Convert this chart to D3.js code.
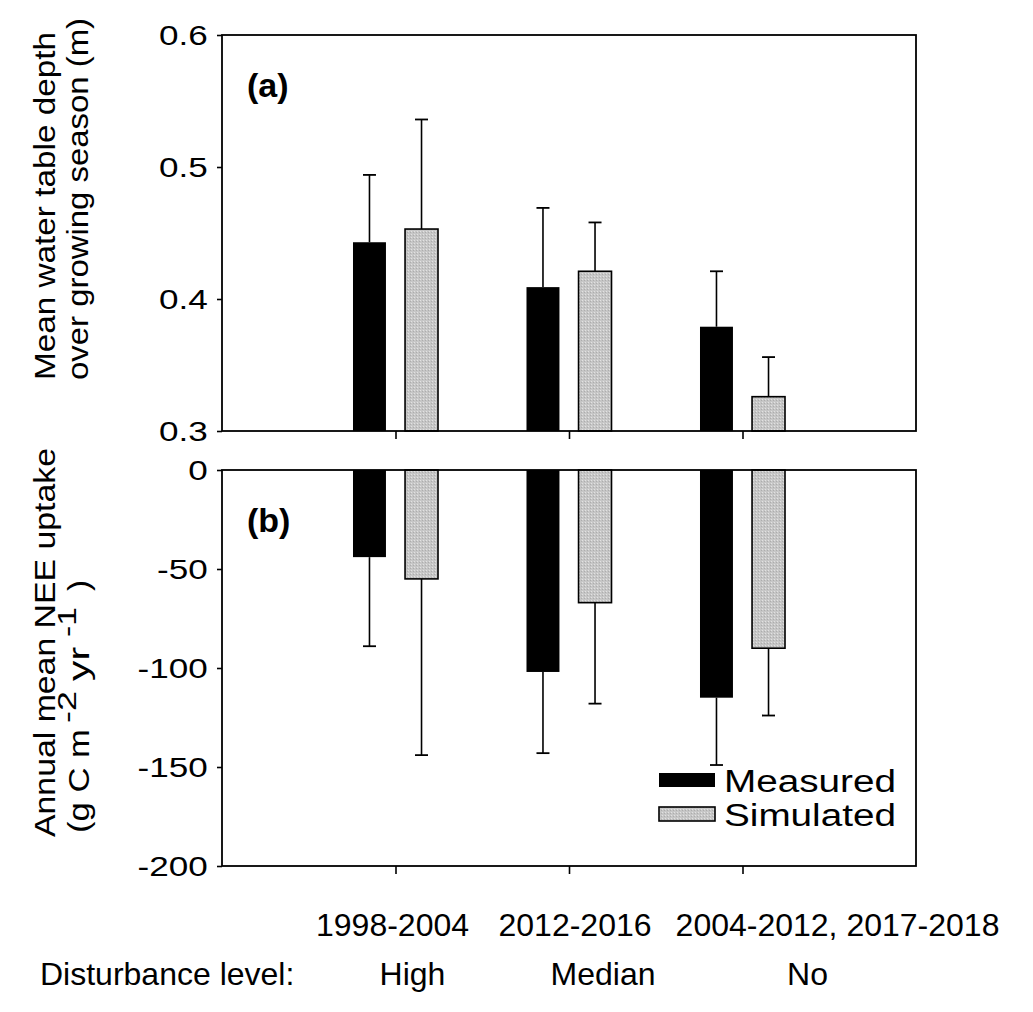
<!DOCTYPE html>
<html>
<head>
<meta charset="utf-8">
<script src="https://cdnjs.cloudflare.com/ajax/libs/d3/7.8.5/d3.min.js"></script>
<style>
body { margin: 0; background: #fff; }
text { font-family: Arial, "Liberation Sans", sans-serif; fill: #000; }
</style>
</head>
<body>
<div id="chart"></div>
<script>
// categories
const periods = ["1998-2004", "2012-2016", "2004-2012, 2017-2018"];
const levels = ["High", "Median", "No"];
const seriesNames = ["Measured", "Simulated"];

// (a) mean water table depth (m)
const wtdMeasured = [0.443, 0.409, 0.379];
const wtdMeasuredErr = [0.051, 0.060, 0.042];
const wtdSimulated = [0.453, 0.421, 0.326];
const wtdSimulatedErr = [0.083, 0.037, 0.030];
const wtdTicks = [0.3, 0.4, 0.5, 0.6];

// (b) annual mean NEE uptake (g C m-2 yr-1)
const neeMeasured = [-44, -102, -115];
const neeMeasuredErr = [45, 41, 34];
const neeSimulated = [-55, -67, -90];
const neeSimulatedErr = [89, 51, 34];
const neeTicks = [0, -50, -100, -150, -200];

const W = 1033, H = 1012;
const left = 222, right = 916;

const svg = d3.select("#chart").append("svg")
    .attr("width", W)
    .attr("height", H);

// stipple pattern for the simulated bars
const defs = svg.append("defs");
const pat = defs.append("pattern")
    .attr("id", "stipple")
    .attr("width", 3).attr("height", 3)
    .attr("patternUnits", "userSpaceOnUse");
pat.append("rect").attr("width", 3).attr("height", 3).attr("fill", "#c6c6c6");
pat.append("rect").attr("width", 1).attr("height", 1).attr("fill", "#e2e2e2");
pat.append("rect").attr("x", 2).attr("y", 1).attr("width", 1).attr("height", 1).attr("fill", "#adadad");

const x = d3.scaleLinear().domain([0, 4]).range([left, right]);
const barW = x(0.19) - x(0);
const offsets = [-0.15, 0.15];

const drawPanel = (cfg) => {
    const { y, base, series, errs, ticks, fmt, tag } = cfg;
    const [y0, y1] = y.range(); // bottom, top
    const g = svg.append("g");

    // bars
    series.forEach((vals, s) => {
        g.selectAll(null)
            .data(vals)
            .enter().append("rect")
            .attr("x", (d, i) => x(i + 1 + offsets[s]) - barW / 2)
            .attr("y", d => y(Math.max(d, base)))
            .attr("width", barW)
            .attr("height", d => Math.abs(y(d) - y(base)))
            .attr("fill", s === 0 ? "#000" : "url(#stipple)")
            .attr("stroke", "#000")
            .attr("stroke-width", s === 0 ? 0 : 1.6);
    });

    // one-sided error bars, pointing away from the baseline
    series.forEach((vals, s) => {
        vals.forEach((d, i) => {
            const cx = x(i + 1 + offsets[s]);
            const end = d + Math.sign(d - base) * errs[s][i];
            g.append("line")
                .attr("x1", cx).attr("x2", cx)
                .attr("y1", y(d)).attr("y2", y(end))
                .attr("stroke", "#000").attr("stroke-width", 1.6);
            g.append("line")
                .attr("x1", cx - 6.5).attr("x2", cx + 6.5)
                .attr("y1", y(end)).attr("y2", y(end))
                .attr("stroke", "#000").attr("stroke-width", 1.8);
        });
    });

    // y axis (labels in the original are drawn wide)
    const ya = g.append("g")
        .attr("transform", `translate(${left},0)`)
        .call(d3.axisLeft(y).tickValues(ticks).tickFormat(fmt).tickSize(5).tickSizeOuter(0).tickPadding(6));
    ya.select(".domain").remove();
    ya.selectAll("line").attr("stroke", "#000").attr("stroke-width", 1.6);
    ya.selectAll("text")
        .attr("font-size", 27)
        .attr("font-family", "Arial, 'Liberation Sans', sans-serif")
        .attr("dy", "0.36em")
        .attr("transform", "scale(1.3,1)");

    // x ticks
    const xa = g.append("g")
        .attr("transform", `translate(0,${y0})`)
        .call(d3.axisBottom(x).tickValues([1, 2, 3]).tickFormat("").tickSize(8).tickSizeOuter(0));
    xa.select(".domain").remove();
    xa.selectAll("line").attr("stroke", "#000").attr("stroke-width", 1.6);

    // frame
    g.append("rect")
        .attr("x", left).attr("y", y1)
        .attr("width", right - left).attr("height", y0 - y1)
        .attr("fill", "none")
        .attr("stroke", "#000")
        .attr("stroke-width", 1.8);

    // panel tag
    g.append("text")
        .attr("x", left + 25).attr("y", y1 + 62)
        .attr("font-size", 34)
        .attr("font-weight", "bold")
        .text(tag);
};

const yTop = d3.scaleLinear().domain([0.3, 0.6]).range([431, 35]);
const yBot = d3.scaleLinear().domain([-200, 0]).range([866, 470]);

drawPanel({
    y: yTop, base: 0.3,
    series: [wtdMeasured, wtdSimulated],
    errs: [wtdMeasuredErr, wtdSimulatedErr],
    ticks: wtdTicks, fmt: d3.format(".1f"), tag: "(a)"
});

drawPanel({
    y: yBot, base: 0,
    series: [neeMeasured, neeSimulated],
    errs: [neeMeasuredErr, neeSimulatedErr],
    ticks: neeTicks, fmt: d => d, tag: "(b)"
});

// y axis titles
const vtext = (tx, ty, len, str) => svg.append("text")
    .attr("transform", `translate(${tx},${ty}) rotate(-90)`)
    .attr("font-size", 29)
    .attr("textLength", len)
    .attr("lengthAdjust", "spacingAndGlyphs")
    .text(str);

vtext(55, 380, 348, "Mean water table depth");
vtext(88, 380, 362, "over growing season (m)");
vtext(55, 837, 389, "Annual mean NEE uptake");

// unit line with superscripts
const unitParts = [
    { t: "(g C m", p: 0, len: 104, sup: false },
    { t: "-2", p: 110, len: 32, sup: true },
    { t: "yr", p: 152, len: 34, sup: false },
    { t: "-1", p: 196, len: 30, sup: true },
    { t: ")", p: 242, len: 11, sup: false }
];
const lineB = svg.append("text")
    .attr("transform", "translate(89,833) rotate(-90)")
    .attr("font-size", 29);
unitParts.forEach(u => {
    lineB.append("tspan")
        .attr("x", u.p).attr("y", u.sup ? -13 : 0)
        .attr("font-size", u.sup ? 26 : 29)
        .attr("textLength", u.len)
        .attr("lengthAdjust", "spacingAndGlyphs")
        .text(u.t);
});

// legend
const legend = svg.append("g").attr("transform", "translate(659,773)");
seriesNames.forEach((name, s) => {
    legend.append("rect")
        .attr("x", 0).attr("y", s * 34)
        .attr("width", 56).attr("height", 14)
        .attr("fill", s === 0 ? "#000" : "url(#stipple)")
        .attr("stroke", "#000")
        .attr("stroke-width", s === 0 ? 0 : 1.6);
    legend.append("text")
        .attr("x", 65).attr("y", s * 34 + 19)
        .attr("font-size", 31)
        .attr("textLength", 172)
        .attr("lengthAdjust", "spacingAndGlyphs")
        .text(name);
});

// category labels
const periodShift = [-3, 6, 95];
svg.selectAll(".period")
    .data(periods)
    .enter().append("text")
    .attr("class", "period")
    .attr("x", (d, i) => x(i + 1) + periodShift[i])
    .attr("y", 936)
    .attr("text-anchor", "middle")
    .attr("font-size", 32)
    .text(d => d);

svg.append("text")
    .attr("x", 40).attr("y", 985)
    .attr("font-size", 32)
    .text("Disturbance level:");

const levelShift = [17, 34, 65];
svg.selectAll(".level")
    .data(levels)
    .enter().append("text")
    .attr("class", "level")
    .attr("x", (d, i) => x(i + 1) + levelShift[i])
    .attr("y", 985)
    .attr("text-anchor", "middle")
    .attr("font-size", 32)
    .text(d => d);
</script>
</body>
</html>
